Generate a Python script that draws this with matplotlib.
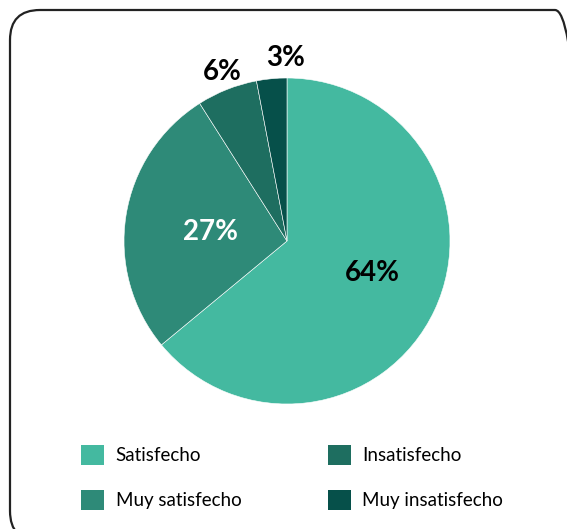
import numpy as np
import matplotlib.pyplot as plt
from matplotlib.patches import FancyBboxPatch, Patch

plt.rcParams['font.family'] = ['Lato', 'DejaVu Sans']

# datos
categorias = ['Satisfecho', 'Muy satisfecho', 'Insatisfecho', 'Muy insatisfecho']
valores = [64, 27, 6, 3]
etiquetas = ['64%', '27%', '6%', '3%']
colores = ['#44b9a0', '#2e8a78', '#1e6e60', '#06504a']
color_txt = ['black', 'white', 'black', 'black']
dist_txt = [0.56, 0.475, 1.11, 1.12]
giro_txt = [5, 2, -0.5, -4.8]  # grados respecto al centro de la cuña

W, H = 567, 529
fig = plt.figure(figsize=(W / 100, H / 100), dpi=100)

# marco redondeado (en pixeles)
marco = FancyBboxPatch((10 / 100, -12 / 100), 575 / 100, 531 / 100,
                       boxstyle='round,pad=0,rounding_size=0.3',
                       transform=fig.dpi_scale_trans, fill=False,
                       edgecolor='#222222', linewidth=1.6)
fig.patches.append(marco)

cx, cy, r = 287, 241, 163
ax = fig.add_axes([(cx - r) / W, (H - cy - r) / H, 2 * r / W, 2 * r / H])
wedges, _ = ax.pie(valores, colors=colores, startangle=90, counterclock=False,
                   wedgeprops=dict(edgecolor='white', linewidth=0.4))
ax.set_xlim(-1, 1)
ax.set_ylim(-1, 1)
ax.set_aspect('equal')

for w, lab, c, d, g in zip(wedges, etiquetas, color_txt, dist_txt, giro_txt):
    ang = np.deg2rad((w.theta1 + w.theta2) / 2 + g)
    ax.text(d * np.cos(ang), d * np.sin(ang), lab, ha='center', va='center',
            fontsize=20, fontweight='bold', color=c, clip_on=False)

handles = [Patch(facecolor=c, edgecolor='none') for c in colores]
fig.legend(handles, categorias, ncol=2, loc='upper left',
           bbox_to_anchor=(64 / W, 1 - 428 / H), frameon=False, fontsize=13.5,
           handlelength=1.25, handleheight=1.25, handletextpad=0.6,
           labelspacing=1.35, columnspacing=4.6)

fig.savefig('out.png', dpi=100)
